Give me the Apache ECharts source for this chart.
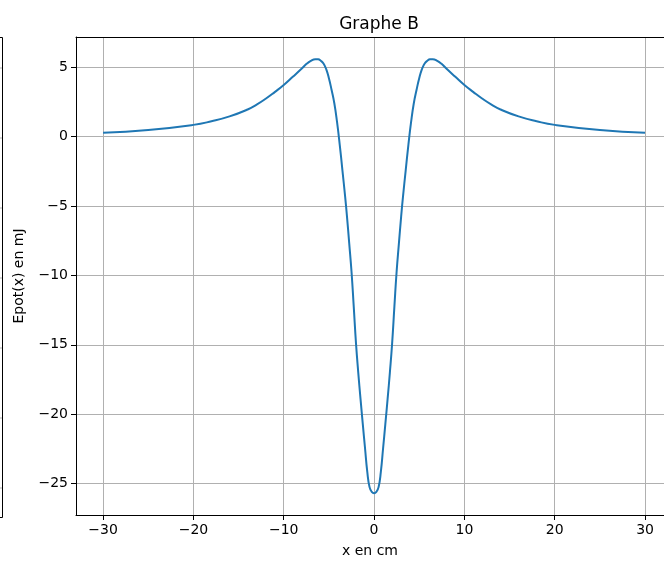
<!DOCTYPE html>
<html>
<head>
<meta charset="utf-8">
<script src="https://cdn.jsdelivr.net/npm/echarts@6/dist/echarts.min.js"></script>
<style>
  html, body { margin: 0; padding: 0; background: #fff; }
  #chart { width: 664px; height: 563px; }
</style>
</head>
<body>
<div id="chart"></div>
<script>
// values
const xValues = [-30, -25, -20, -18, -16, -14, -13, -12, -11, -10, -9, -8, -7.5, -7, -6.5, -6.2, -5.9, -5.6, -5.3, -5, -4.7, -4.4, -4.1, -3.8, -3.5, -3.2, -3, -2.75, -2.5, -2.25, -2, -1.75, -1.5, -1.25, -1, -0.75, -0.5, -0.25, 0,
  0.25, 0.5, 0.75, 1, 1.25, 1.5, 1.75, 2, 2.25, 2.5, 2.75, 3, 3.2, 3.5, 3.8, 4.1, 4.4, 4.7, 5, 5.3, 5.6, 5.9, 6.2, 6.5, 7, 7.5, 8, 9, 10, 11, 12, 13, 14, 16, 18, 20, 25, 30]
const epotValues = [0.27, 0.47, 0.84, 1.1, 1.45, 1.95, 2.3, 2.72, 3.2, 3.71, 4.3, 4.9, 5.22, 5.45, 5.57, 5.56, 5.46, 5.26, 4.85, 4.2, 3.35, 2.4, 1.05, -0.6, -2.45, -4.35, -5.75, -7.7, -9.7, -12.25, -14.9, -17.0, -18.9, -20.7, -22.45, -24.15, -25.25, -25.6, -25.7,
  -25.6, -25.25, -24.15, -22.45, -20.7, -18.9, -17.0, -14.9, -12.25, -9.7, -7.7, -5.75, -4.35, -2.45, -0.6, 1.05, 2.4, 3.35, 4.2, 4.85, 5.26, 5.46, 5.56, 5.57, 5.45, 5.22, 4.9, 4.3, 3.71, 3.2, 2.72, 2.3, 1.95, 1.45, 1.1, 0.84, 0.47, 0.27]
const xTicks = [-30, -20, -10, 0, 10, 20, 30]
const yTicks = [-25, -20, -15, -10, -5, 0, 5]
const leftGridRows = [68, 138, 208, 278, 348, 418, 488]

const font = 'DejaVu Sans'
const minusFmt = v => (v < 0 ? '\u2212' + Math.abs(v) : String(v))

const chart = echarts.init(document.getElementById('chart'))

const axisCommon = {
  axisLine: { show: true, onZero: false, lineStyle: { color: '#000', width: 1 } },
  axisTick: { show: true, length: 5, lineStyle: { color: '#000', width: 1 } },
  axisLabel: { color: '#000', fontFamily: font, fontSize: 14, formatter: minusFmt },
  splitLine: { show: true, lineStyle: { color: '#b0b0b0', width: 1 } },
  nameLocation: 'middle',
  nameTextStyle: { color: '#000', fontFamily: font, fontSize: 14 }
}

chart.setOption({
  animation: false,
  title: {
    text: 'Graphe B',
    left: 374,
    top: 11,
    textAlign: 'center',
    textStyle: { fontFamily: font, fontSize: 17, fontWeight: 'normal', color: '#000' }
  },
  grid: {
    left: 76,
    top: 37,
    right: 0,
    bottom: 45
  },
  xAxis: [{
    ...axisCommon,
    type: 'value',
    min: -33,
    max: 32.1,
    name: 'x en cm',
    nameGap: 29,
    axisTick: { ...axisCommon.axisTick, customValues: xTicks },
    axisLabel: { ...axisCommon.axisLabel, customValues: xTicks, margin: 8 }
  }, {
    // top spine only
    type: 'value',
    position: 'top',
    min: -33,
    max: 32.1,
    axisLine: { show: true, onZero: false, lineStyle: { color: '#000', width: 1 } },
    axisTick: { show: false },
    axisLabel: { show: false },
    splitLine: { show: false }
  }],
  yAxis: {
    ...axisCommon,
    type: 'value',
    min: -27.26,
    max: 7.17,
    name: 'Epot(x) en mJ',
    nameGap: 50,
    axisTick: { ...axisCommon.axisTick, customValues: yTicks },
    axisLabel: { ...axisCommon.axisLabel, customValues: yTicks, margin: 8 }
  },
  series: [{
    type: 'line',
    data: xValues.map((x, i) => [x, epotValues[i]]),
    showSymbol: false,
    smooth: 0.5,
    lineStyle: { color: '#1f77b4', width: 2 }
  }],
  graphic: [
    {
      type: 'rect',
      shape: { x: -20, y: 37.5, width: 22.5, height: 480 },
      style: { fill: 'none', stroke: '#000', lineWidth: 1 },
      z: 10
    },
    ...leftGridRows.map(y => ({
      type: 'line',
      shape: { x1: 0, y1: y, x2: 2, y2: y },
      style: { stroke: '#b0b0b0', lineWidth: 1 },
      z: 9
    }))
  ]
})
</script>
</body>
</html>
